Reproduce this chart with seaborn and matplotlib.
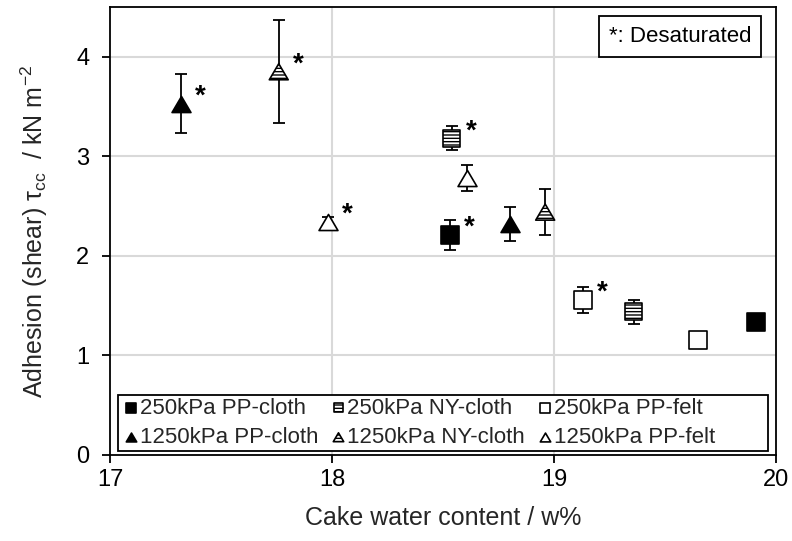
import numpy as np
import pandas as pd
import matplotlib
matplotlib.use("Agg")
import matplotlib.pyplot as plt
from matplotlib.path import Path
from matplotlib.markers import MarkerStyle
from matplotlib.patches import Rectangle
import seaborn as sns

# ---- data: cake water content (w%) vs adhesion shear stress (kN m-2) ----
pp_cloth_250_x = [18.53, 19.91]
pp_cloth_250_y = [2.21, 1.34]
pp_cloth_250_err = [0.15, 0.05]

ny_cloth_250_x = [18.54, 19.36]
ny_cloth_250_y = [3.18, 1.44]
ny_cloth_250_err = [0.12, 0.12]

pp_felt_250_x = [19.13, 19.65]
pp_felt_250_y = [1.56, 1.16]
pp_felt_250_err = [0.13, 0.05]

pp_cloth_1250_x = [17.32, 18.80]
pp_cloth_1250_y = [3.53, 2.32]
pp_cloth_1250_err = [0.30, 0.17]

ny_cloth_1250_x = [17.76, 18.96]
ny_cloth_1250_y = [3.85, 2.44]
ny_cloth_1250_err = [0.52, 0.23]

pp_felt_1250_x = [17.98, 18.61]
pp_felt_1250_y = [2.34, 2.78]
pp_felt_1250_err = [0.05, 0.13]

# desaturated cakes are flagged with an asterisk
pp_cloth_250_desat = [True, False]
ny_cloth_250_desat = [True, False]
pp_felt_250_desat = [True, False]
pp_cloth_1250_desat = [True, False]
ny_cloth_1250_desat = [True, False]
pp_felt_1250_desat = [True, False]

series_labels = ["250kPa PP-cloth", "250kPa NY-cloth", "250kPa PP-felt",
                 "1250kPa PP-cloth", "1250kPa NY-cloth", "1250kPa PP-felt"]
x_ticks = [17, 18, 19, 20]
y_ticks = [0, 1, 2, 3, 4]

sns.set_theme(style="white")
plt.rcParams["font.family"] = ["Liberation Sans", "DejaVu Sans"]
plt.rcParams["mathtext.fontset"] = "custom"
plt.rcParams["mathtext.rm"] = "Liberation Sans"
plt.rcParams["mathtext.it"] = "Liberation Sans:italic"
plt.rcParams["hatch.linewidth"] = 1.0
plt.rcParams["hatch.color"] = "black"

frames = []
for lab, xs, ys, es, ds in zip(
    series_labels,
    [pp_cloth_250_x, ny_cloth_250_x, pp_felt_250_x, pp_cloth_1250_x, ny_cloth_1250_x, pp_felt_1250_x],
    [pp_cloth_250_y, ny_cloth_250_y, pp_felt_250_y, pp_cloth_1250_y, ny_cloth_1250_y, pp_felt_1250_y],
    [pp_cloth_250_err, ny_cloth_250_err, pp_felt_250_err, pp_cloth_1250_err, ny_cloth_1250_err, pp_felt_1250_err],
    [pp_cloth_250_desat, ny_cloth_250_desat, pp_felt_250_desat, pp_cloth_1250_desat, ny_cloth_1250_desat, pp_felt_1250_desat],
):
    frames.append(pd.DataFrame({"series": lab, "water": xs, "tau": ys, "err": es, "desat": ds}))
df = pd.concat(frames, ignore_index=True)

tri = MarkerStyle(Path([(0, 0.85), (-1, -0.85), (1, -0.85), (0, 0.85)],
                       [Path.MOVETO, Path.LINETO, Path.LINETO, Path.CLOSEPOLY]))
styles = {
    "250kPa PP-cloth": dict(marker="s", facecolor="black", hatch=None, s=150),
    "250kPa NY-cloth": dict(marker="s", facecolor="white", hatch="-----", s=150),
    "250kPa PP-felt": dict(marker="s", facecolor="white", hatch=None, s=150),
    "1250kPa PP-cloth": dict(marker=tri, facecolor="black", hatch=None, s=185),
    "1250kPa NY-cloth": dict(marker=tri, facecolor="white", hatch="-----", s=185),
    "1250kPa PP-felt": dict(marker=tri, facecolor="white", hatch=None, s=185),
}

fig = plt.figure(figsize=(7.92, 5.41), dpi=100)
ax = fig.add_axes([0.1389, 0.159, 0.841, 0.828])

handles = {}
for lab in series_labels:
    sub = df[df["series"] == lab]
    st = styles[lab]
    ax.errorbar(sub["water"], sub["tau"], yerr=sub["err"], fmt="none",
                ecolor="black", elinewidth=1.3, capsize=4, capthick=1.3, zorder=2)
    kw = dict(marker=st["marker"], s=st["s"], facecolor=st["facecolor"],
              edgecolor="black", linewidth=1.2, zorder=3, label=lab, legend=False)
    if st["hatch"]:
        kw["hatch"] = st["hatch"]
    sns.scatterplot(data=sub, x="water", y="tau", ax=ax, **kw)
    handles[lab] = ax.collections[-1]
    for _, r in sub[sub["desat"]].iterrows():
        ax.annotate("*", (r["water"], r["tau"]), xytext=(14, 0),
                    textcoords="offset points", ha="center", va="baseline",
                    fontsize=20, fontweight="bold", color="black")

ax.set_xlim(17, 20)
ax.set_ylim(0, 4.5)
ax.set_xticks(x_ticks)
ax.set_yticks(y_ticks)

# light gridlines at interior ticks only
for gx in [18, 19]:
    ax.axvline(gx, color="#d9d9d9", lw=1.5, zorder=0)
for gy in [1, 2, 3, 4]:
    ax.axhline(gy, color="#d9d9d9", lw=1.5, zorder=0)
ax.grid(False)

for sp in ax.spines.values():
    sp.set_color("black")
    sp.set_linewidth(1.3)
ax.tick_params(axis="both", direction="out", length=6, width=1.3,
               labelsize=17, colors="black", bottom=True, left=True)
ax.tick_params(axis="x", pad=4)
ax.tick_params(axis="y", pad=9)

ax.set_xlabel("Cake water content / w%", fontsize=18, labelpad=11)
ax.set_ylabel(r"Adhesion (shear) $\mathrm{\tau_{cc}}$  / kN m$^{\mathrm{-2}}$",
              fontsize=18, labelpad=19)

# legend frame spanning the bottom of the plot
ax.add_patch(Rectangle((0.012, 0.008), 0.976, 0.126, transform=ax.transAxes,
                       facecolor="white", edgecolor="black", linewidth=1.3,
                       zorder=4))
order = ["250kPa PP-cloth", "1250kPa PP-cloth", "250kPa NY-cloth",
         "1250kPa NY-cloth", "250kPa PP-felt", "1250kPa PP-felt"]
leg = ax.legend([handles[k] for k in order], order, ncol=3, loc="upper left",
                bbox_to_anchor=(0.02, 0.128),
                fontsize=16, markerscale=0.55, handletextpad=0.05,
                handlelength=0.7, borderpad=0.0, labelspacing=0.38,
                columnspacing=0.55, frameon=False, borderaxespad=0.0)
leg.set_zorder(5)

ax.text(0.856, 0.935, "*: Desaturated", transform=ax.transAxes,
        ha="center", va="center", fontsize=16, color="black", zorder=6,
        bbox=dict(boxstyle="square,pad=0.45", fc="white", ec="black", lw=1.3))

fig.savefig("out.png", dpi=100)
